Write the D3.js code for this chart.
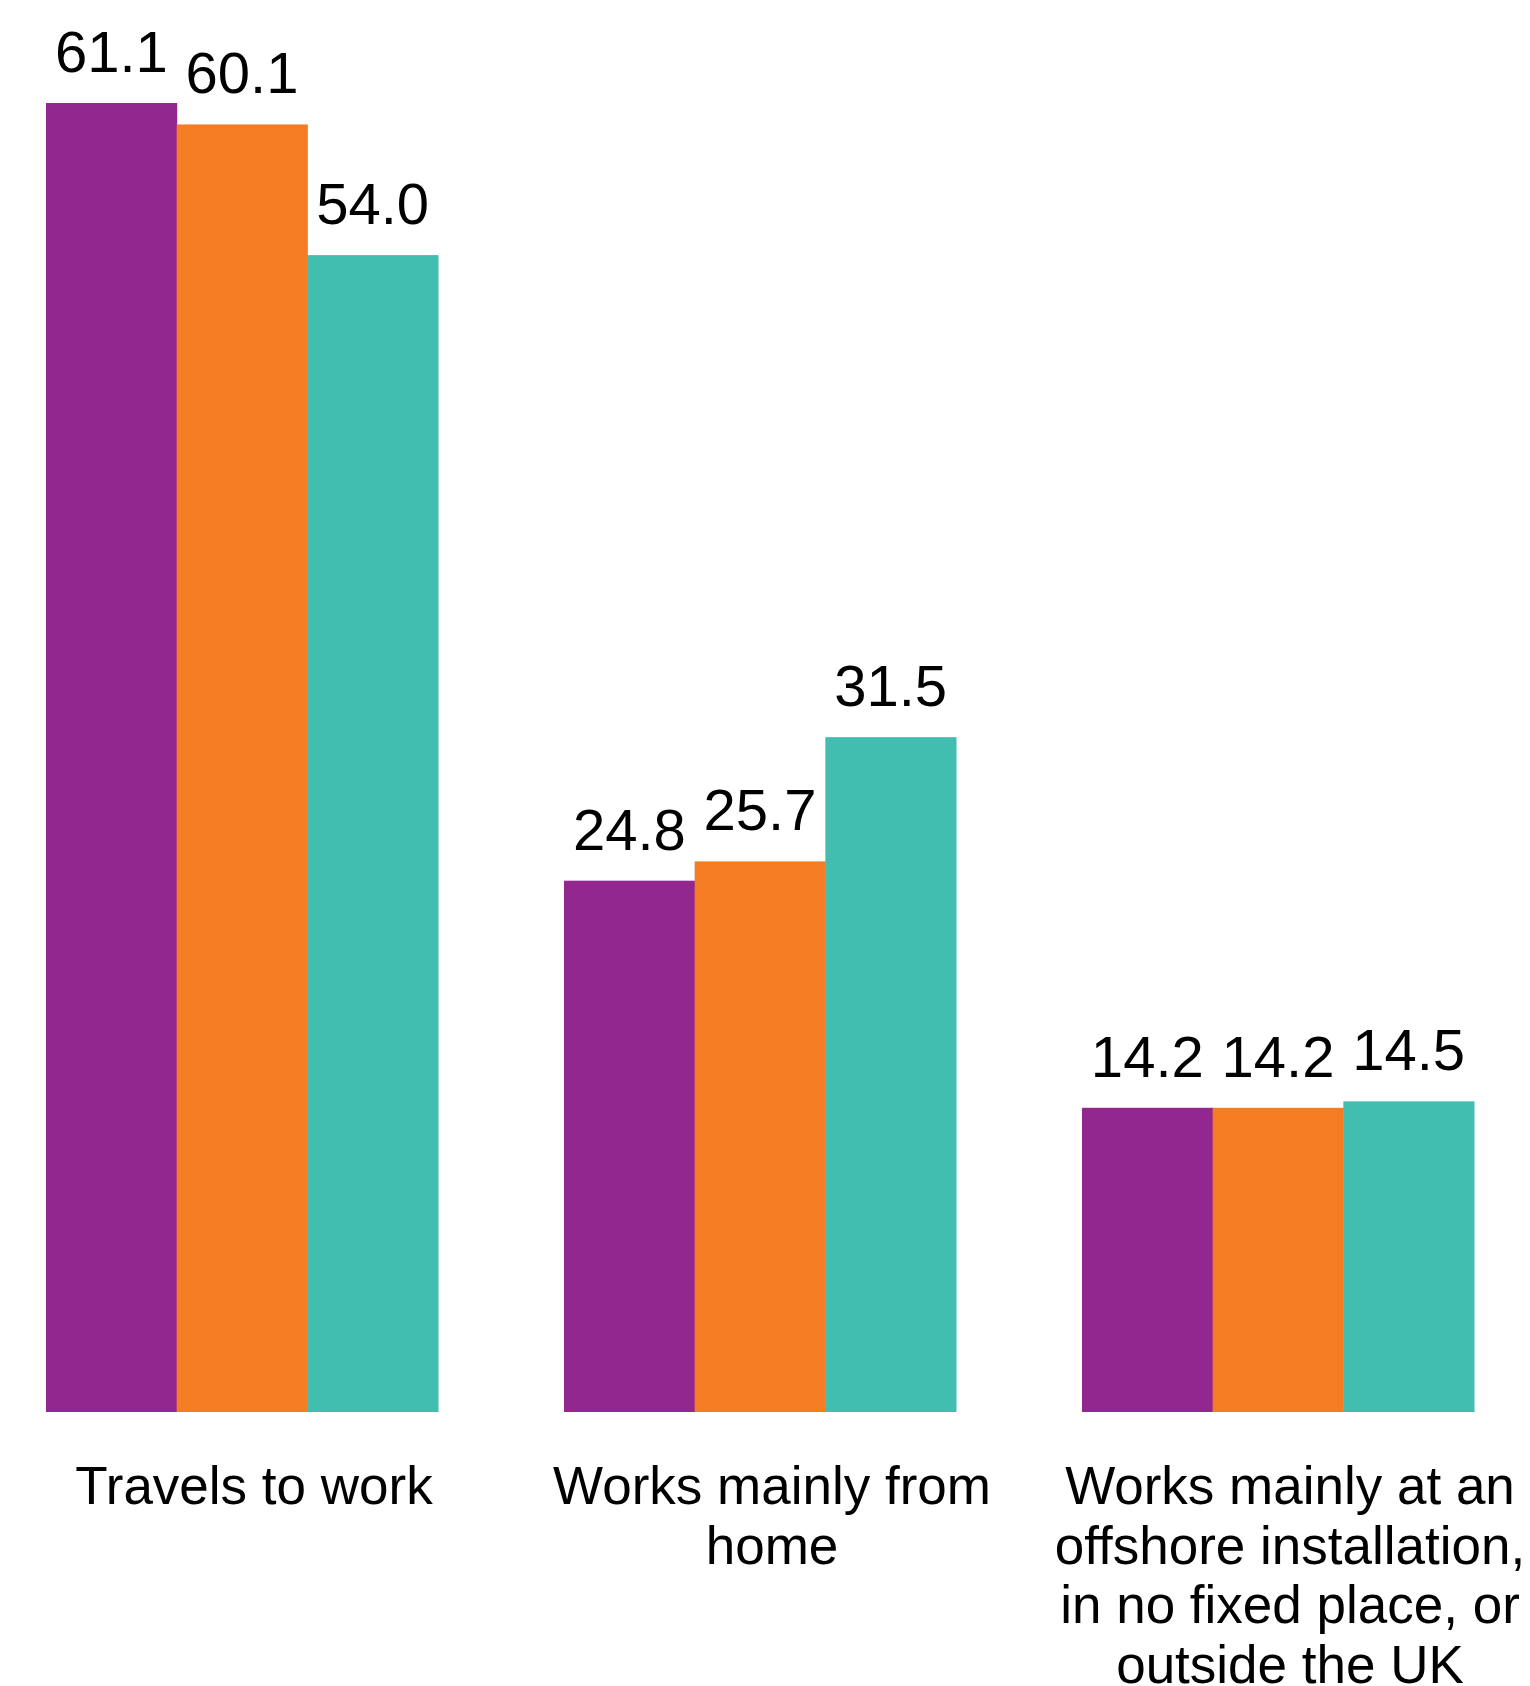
<!DOCTYPE html>
<html>
<head>
<meta charset="utf-8">
<script src="https://cdn.jsdelivr.net/npm/d3@7"></script>
<style>
  body { margin: 0; background: #fff; }
  svg text { font-family: "Liberation Sans", Arial, sans-serif; fill: #000; }
</style>
</head>
<body>
<div id="chart"></div>
<script>
// categories (each line of a label is its own entry)
const categories = [
  ["Travels to work"],
  ["Works mainly from", "home"],
  ["Works mainly at an", "offshore installation,", "in no fixed place, or", "outside the UK"]
];
const seriesNames = ["s1", "s2", "s3"];
const series1 = [61.1, 24.8, 14.2];
const series2 = [60.1, 25.7, 14.2];
const series3 = [54.0, 31.5, 14.5];
const colors = ["#92278F", "#F47D23", "#42BEB1"];

const width = 1530, height = 1686;
const allSeries = [series1, series2, series3];

const svg = d3.select("#chart").append("svg")
  .attr("width", width)
  .attr("height", height);

const x0 = d3.scaleBand()
  .domain(d3.range(categories.length))
  .range([46, 1474])
  .paddingInner(0.2432)
  .paddingOuter(0);

const x1 = d3.scaleBand()
  .domain(seriesNames)
  .range([0, x0.bandwidth()]);

const y = d3.scaleLinear()
  .domain([0, d3.max(allSeries.flat())])
  .range([1412, 103]);

const groups = svg.selectAll("g.group")
  .data(categories)
  .join("g")
  .attr("class", "group")
  .attr("transform", (d, i) => `translate(${x0(i)},0)`);

groups.selectAll("rect")
  .data((d, i) => seriesNames.map((s, j) => ({ s, j, v: allSeries[j][i] })))
  .join("rect")
  .attr("x", d => x1(d.s))
  .attr("y", d => y(d.v))
  .attr("width", x1.bandwidth() + 0.5)
  .attr("height", d => y(0) - y(d.v))
  .attr("fill", d => colors[d.j]);

// value labels
groups.selectAll("text.val")
  .data((d, i) => seriesNames.map((s, j) => ({ s, j, v: allSeries[j][i] })))
  .join("text")
  .attr("class", "val")
  .attr("x", d => x1(d.s) + x1.bandwidth() / 2)
  .attr("y", d => y(d.v) - 31)
  .attr("text-anchor", "middle")
  .style("font-size", "58px")
  .text(d => d.v.toFixed(1));

// category labels
groups.append("text")
  .attr("class", "cat")
  .attr("text-anchor", "middle")
  .style("font-size", "53px")
  .selectAll("tspan")
  .data(d => d)
  .join("tspan")
  .attr("x", x0.bandwidth() / 2 + 12)
  .attr("y", (d, k) => 1504 + k * 59.7)
  .text(d => d);
</script>
</body>
</html>
